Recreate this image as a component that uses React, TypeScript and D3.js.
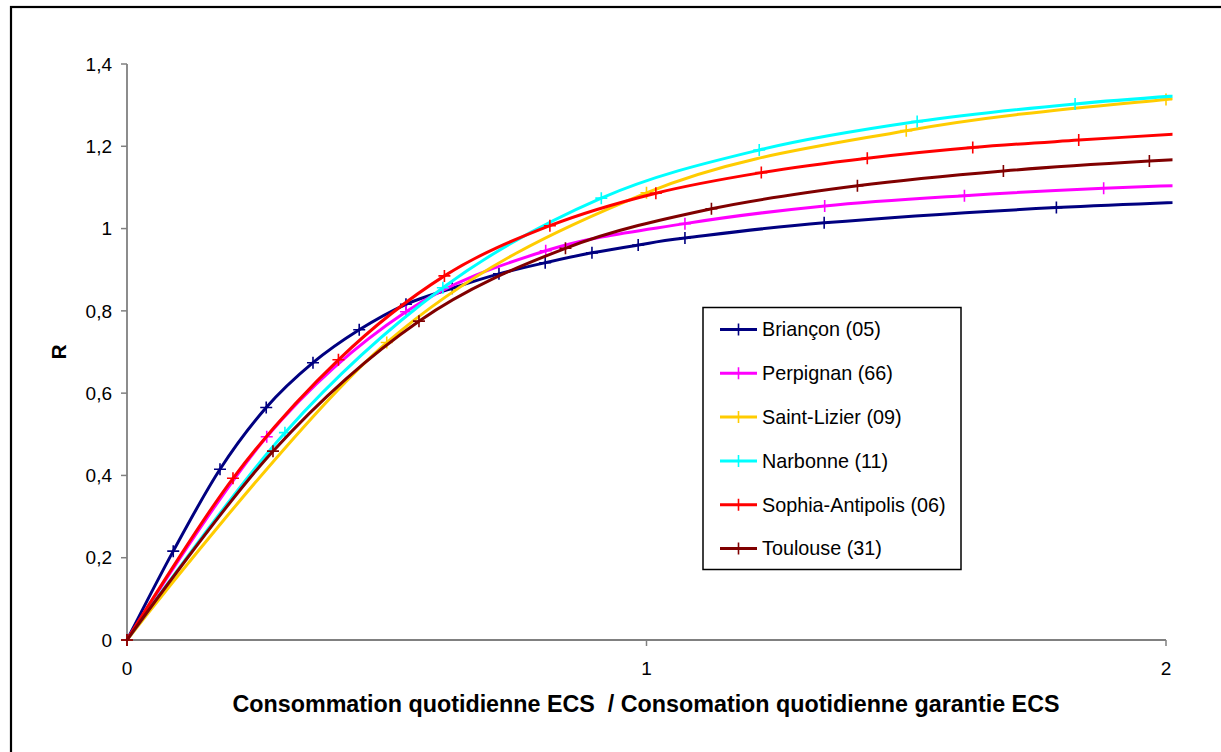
import React from "react";
import * as d3 from "d3";

const seriesNames = ["Briançon (05)", "Perpignan (66)", "Saint-Lizier (09)", "Narbonne (11)", "Sophia-Antipolis (06)", "Toulouse (31)"];
const seriesColors = ["#000080", "#FF00FF", "#FFCC00", "#00FFFF", "#FF0000", "#800000"];

const brianconX = [0, 0.089, 0.179, 0.268, 0.358, 0.447, 0.537, 0.626, 0.716, 0.805, 0.895, 0.984, 1.074, 1.342, 1.789, 2.237];
const brianconR = [0, 0.216, 0.415, 0.565, 0.674, 0.754, 0.816, 0.855, 0.890, 0.917, 0.941, 0.960, 0.977, 1.014, 1.051, 1.074];
const perpignanX = [0, 0.269, 0.537, 0.806, 1.074, 1.343, 1.612, 1.880, 2.149];
const perpignanR = [0, 0.494, 0.798, 0.946, 1.012, 1.055, 1.080, 1.098, 1.110];
const saintLizierX = [0, 0.5, 1.0, 1.5, 2.0, 2.5];
const saintLizierR = [0, 0.723, 1.087, 1.238, 1.314, 1.36];
const narbonneX = [0, 0.304, 0.608, 0.913, 1.217, 1.521, 1.825, 2.130];
const narbonneR = [0, 0.504, 0.856, 1.074, 1.191, 1.260, 1.303, 1.332];
const sophiaX = [0, 0.204, 0.407, 0.611, 0.814, 1.018, 1.221, 1.425, 1.628, 1.832, 2.036];
const sophiaR = [0, 0.393, 0.681, 0.885, 1.007, 1.086, 1.136, 1.171, 1.197, 1.215, 1.231];
const toulouseX = [0, 0.281, 0.562, 0.844, 1.125, 1.406, 1.687, 1.968, 2.249];
const toulouseR = [0, 0.459, 0.775, 0.952, 1.048, 1.104, 1.140, 1.164, 1.182];

const seriesX = [brianconX, perpignanX, saintLizierX, narbonneX, sophiaX, toulouseX];
const seriesR = [brianconR, perpignanR, saintLizierR, narbonneR, sophiaR, toulouseR];

const yTicks = [0, 0.2, 0.4, 0.6, 0.8, 1.0, 1.2, 1.4];
const yTickLabels = ["0", "0,2", "0,4", "0,6", "0,8", "1", "1,2", "1,4"];
const xTicks = [0, 1, 2];
const xTickLabels = ["0", "1", "2"];

const xTitle = "Consommation quotidienne ECS  / Consomation quotidienne garantie ECS";
const yTitle = "R";

export default function App() {
  const W = 1221, H = 752;
  const left = 127, right = 1166, top = 64, bottom = 640;
  const x = d3.scaleLinear().domain([0, 2]).range([left, right]);
  const y = d3.scaleLinear().domain([0, 1.4]).range([bottom, top]);
  const line = d3.line<[number, number]>()
    .x(d => x(d[0]))
    .y(d => y(d[1]))
    .curve(d3.curveCatmullRom.alpha(0));
  const font = "Arial, 'Liberation Sans', sans-serif";
  const axisColor = "#808080";
  const m = 6;

  const legendX = 703, legendY = 307.5, legendW = 258, legendH = 262;
  const rowY0 = 329.5, rowStep = 43.8;

  return (
    <svg width={W} height={H} style={{ position: "absolute", left: 0, top: 0, background: "#fff" }}>
      <defs>
        <clipPath id="plotClip">
          <rect x={0} y={0} width={1172.5} height={H} />
        </clipPath>
      </defs>
      <rect x={0} y={0} width={W} height={H} fill="#fff" />
      <rect x={11} y={7} width={1240} height={800} fill="none" stroke="#000" strokeWidth={2.2} />

      {/* axes */}
      <line x1={left} y1={top} x2={left} y2={bottom} stroke={axisColor} strokeWidth={1.8} />
      <line x1={left} y1={bottom} x2={right} y2={bottom} stroke={axisColor} strokeWidth={1.8} />
      {yTicks.map((t, i) => (
        <g key={"yt" + i}>
          <line x1={left - 6} x2={left} y1={y(t)} y2={y(t)} stroke={axisColor} strokeWidth={1.5} />
          <text x={112} y={y(t)} dy="0.35em" textAnchor="end" fontFamily={font} fontSize={19} fill="#000">{yTickLabels[i]}</text>
        </g>
      ))}
      {xTicks.map((t, i) => (
        <g key={"xt" + i}>
          <line x1={x(t)} x2={x(t)} y1={bottom} y2={bottom + 6} stroke={axisColor} strokeWidth={1.5} />
          <text x={x(t)} y={668} dy="0.35em" textAnchor="middle" fontFamily={font} fontSize={19} fill="#000">{xTickLabels[i]}</text>
        </g>
      ))}

      {/* series */}
      <g clipPath="url(#plotClip)">
        {seriesX.map((xs, si) => {
          const pts: [number, number][] = xs.map((v, j) => [v, seriesR[si][j]]);
          return (
            <g key={"s" + si}>
              <path d={line(pts) || ""} fill="none" stroke={seriesColors[si]} strokeWidth={3} strokeLinejoin="round" />
              {pts.map((p, j) => (
                <path key={j} d={`M${x(p[0]) - m},${y(p[1])}H${x(p[0]) + m}M${x(p[0])},${y(p[1]) - m}V${y(p[1]) + m}`} stroke={seriesColors[si]} strokeWidth={1.6} fill="none" />
              ))}
            </g>
          );
        })}
      </g>

      {/* titles */}
      <text x={646} y={712} textAnchor="middle" fontFamily={font} fontSize={23.3} fontWeight="bold" style={{ whiteSpace: "pre" }}>{xTitle}</text>
      <text transform={`translate(66,${(top + bottom) / 2}) rotate(-90)`} textAnchor="middle" fontFamily={font} fontSize={21} fontWeight="bold">{yTitle}</text>

      {/* legend */}
      <rect x={legendX} y={legendY} width={legendW} height={legendH} fill="#fff" stroke="#000" strokeWidth={1.5} />
      {seriesNames.map((name, i) => {
        const ry = rowY0 + i * rowStep;
        return (
          <g key={"l" + i}>
            <line x1={720} x2={757} y1={ry} y2={ry} stroke={seriesColors[i]} strokeWidth={3} />
            <path d={`M${738.5 - m},${ry}H${738.5 + m}M738.5,${ry - m}V${ry + m}`} stroke={seriesColors[i]} strokeWidth={1.6} />
            <text x={762} y={ry} dy="0.35em" fontFamily={font} fontSize={19.8} fill="#000">{name}</text>
          </g>
        );
      })}
    </svg>
  );
}
